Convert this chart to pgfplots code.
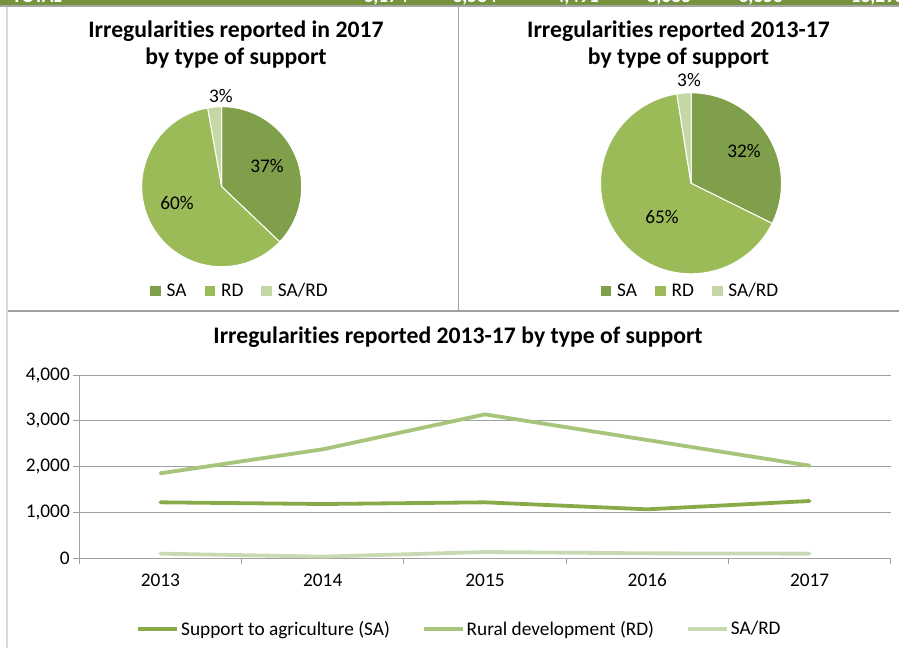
\documentclass[border=0pt]{standalone}
\usepackage{pgfplots}
\pgfplotsset{compat=1.18}
\usepackage{fontspec}
\setmainfont{Carlito}[Ligatures={NoCommon,NoContextual}, RawFeature={-liga;-clig;-dlig}]
\definecolor{saC}{HTML}{7F9F4A}
\definecolor{rdC}{HTML}{9BBB59}
\definecolor{srC}{HTML}{C4D7A4}
\definecolor{saL}{HTML}{89AA49}
\definecolor{rdL}{HTML}{A6C47A}
\definecolor{srL}{HTML}{C8DAB3}
\definecolor{topG}{HTML}{76923C}
\definecolor{gridG}{HTML}{A0A0A0}
\definecolor{lborder}{HTML}{D9D9D9}
\newcommand\pieslice[3]{\addplot[fill=#3, draw=white, line width=1pt, domain=90-3.6*(#2):90-3.6*(#1), samples=90, variable=\t] ({cos(\t)},{sin(\t)}) -- (axis cs:0,0) -- cycle;}
\newcommand\regfont{\fontsize{19.3}{23}\selectfont}
\newcommand\titfont{\bfseries\fontsize{23.7}{27.5}\selectfont}
\newcommand\Irr{Irregularit\kern0pt ies}
\pgfplotsset{
  pielegend/.style={legend style={draw=none, fill=none, legend columns=3, font=\regfont,
    /tikz/every even column/.append style={column sep=16pt}, anchor=center},
    legend image code/.code={\filldraw[##1, draw=none] (0pt,-5.3pt) rectangle (10.6pt,5.3pt); \path (14pt,0pt);}},
}
\begin{document}
\begin{tikzpicture}[x=1pt,y=1pt]
\useasboundingbox (0,0) rectangle (899,648);
% frame
\fill[topG] (0,643) rectangle (899,648);
\begin{scope}
\clip (0,643) rectangle (899,648);
\node[white, font=\bfseries\regfont, anchor=base west, inner sep=0] at (12,645) {TOTAL};
\foreach \xx/\tt in {408/{3,174},497/{3,584},599/{4,491},691/{3,688},783/{3,358},905/{18,295}}
  \node[white, font=\bfseries\regfont, anchor=base east, inner sep=0] at (\xx,645) {\tt};
\end{scope}
\fill[black!35] (0,641) rectangle (899,643);
\fill[lborder] (6,0) rectangle (8,641);
\draw[gridG, line width=1.5] (458.7,641) -- (458.7,336.5);
\draw[gridG, line width=2] (8,336.5) -- (898.5,336.5);
% titles
\node[font=\titfont, align=center] at (236,603.5) {\Irr{} reported in 2017\\by type of support};
\node[font=\titfont, align=center] at (678.5,603.5) {\Irr{} reported 2013-17\\by type of support};
\node[font=\titfont] at (458,311) {\Irr{} reported 2013-17 by type of support};

% pie 1 (2017)
\begin{axis}[at={(141.7pt,381.3pt)}, anchor=south west, width=160pt, height=160pt, scale only axis,
  xmin=-1, xmax=1, ymin=-1, ymax=1, hide axis, clip=false, pielegend,
  legend style={at={(0.614,-0.152)}}]
\pieslice{0}{37.1}{saC}
\addlegendentry{SA}
\pieslice{37.1}{97.2}{rdC}
\addlegendentry{RD}
\pieslice{97.2}{100}{srC}
\addlegendentry{SA/RD}
\node[font=\regfont] at (axis cs:0.566,0.259) {37\%};
\node[font=\regfont] at (axis cs:-0.559,-0.204) {60\%};
\node[font=\regfont] at (axis cs:-0.009,1.134) {3\%};
\end{axis}

% pie 2 (2013-17)
\begin{axis}[at={(600.5pt,374.2pt)}, anchor=south west, width=181pt, height=181pt, scale only axis,
  xmin=-1, xmax=1, ymin=-1, ymax=1, hide axis, clip=false, pielegend,
  legend style={at={(0.497,-0.095)}}]
\pieslice{0}{32.3}{saC}
\addlegendentry{SA}
\pieslice{32.3}{97.5}{rdC}
\addlegendentry{RD}
\pieslice{97.5}{100}{srC}
\addlegendentry{SA/RD}
\node[font=\regfont] at (axis cs:0.586,0.357) {32\%};
\node[font=\regfont] at (axis cs:-0.32,-0.372) {65\%};
\node[font=\regfont] at (axis cs:-0.022,1.14) {3\%};
\end{axis}

% line chart
\begin{axis}[at={(79.3pt,90pt)}, anchor=south west, width=811.4pt, height=183pt, scale only axis,
  xmin=2012.5, xmax=2017.5, ymin=0, ymax=4000,
  axis lines*=left, axis line style={gridG, line width=1pt},
  ytick={0,1000,2000,3000,4000}, ymajorgrids, grid style={gridG, line width=1pt},
  xtick={2013,2014,2015,2016,2017}, xticklabels={2013,2014,2015,2016,2017},
  minor xtick={2012.5,2013.5,2014.5,2015.5,2016.5,2017.5},
  tick align=outside, major tick length=6pt, minor tick length=6pt,
  tick style={gridG, line width=1pt}, major x tick style={draw=none},
  scaled y ticks=false,
  /pgf/number format/assume math mode=true,
  yticklabel style={/pgf/number format/1000 sep={,}},
  xticklabel style={yshift=-6pt},
  tick label style={font=\regfont},
  legend style={draw=none, fill=none, legend columns=3, font=\regfont,
    at={(0.4686,-0.388)}, anchor=center,
    /tikz/every even column/.append style={column sep=30pt}},
  legend image code/.code={\draw[#1, line cap=butt] (0pt,0pt) -- (39pt,0pt);},
]
\addplot[saL, line width=3.8pt, line join=round, line cap=round] coordinates {(2013,1217) (2014,1180) (2015,1217) (2016,1064) (2017,1246)};
\addlegendentry{Support to agriculture (SA)}
\addplot[rdL, line width=3.8pt, line join=round, line cap=round] coordinates {(2013,1851) (2014,2376) (2015,3140) (2016,2579) (2017,2018)};
\addlegendentry{Rural development (RD)}
\addplot[srL, line width=3.8pt, line join=round, line cap=round] coordinates {(2013,95) (2014,30) (2015,131) (2016,102) (2017,95)};
\addlegendentry{SA/RD}
\end{axis}
\end{tikzpicture}
\end{document}
